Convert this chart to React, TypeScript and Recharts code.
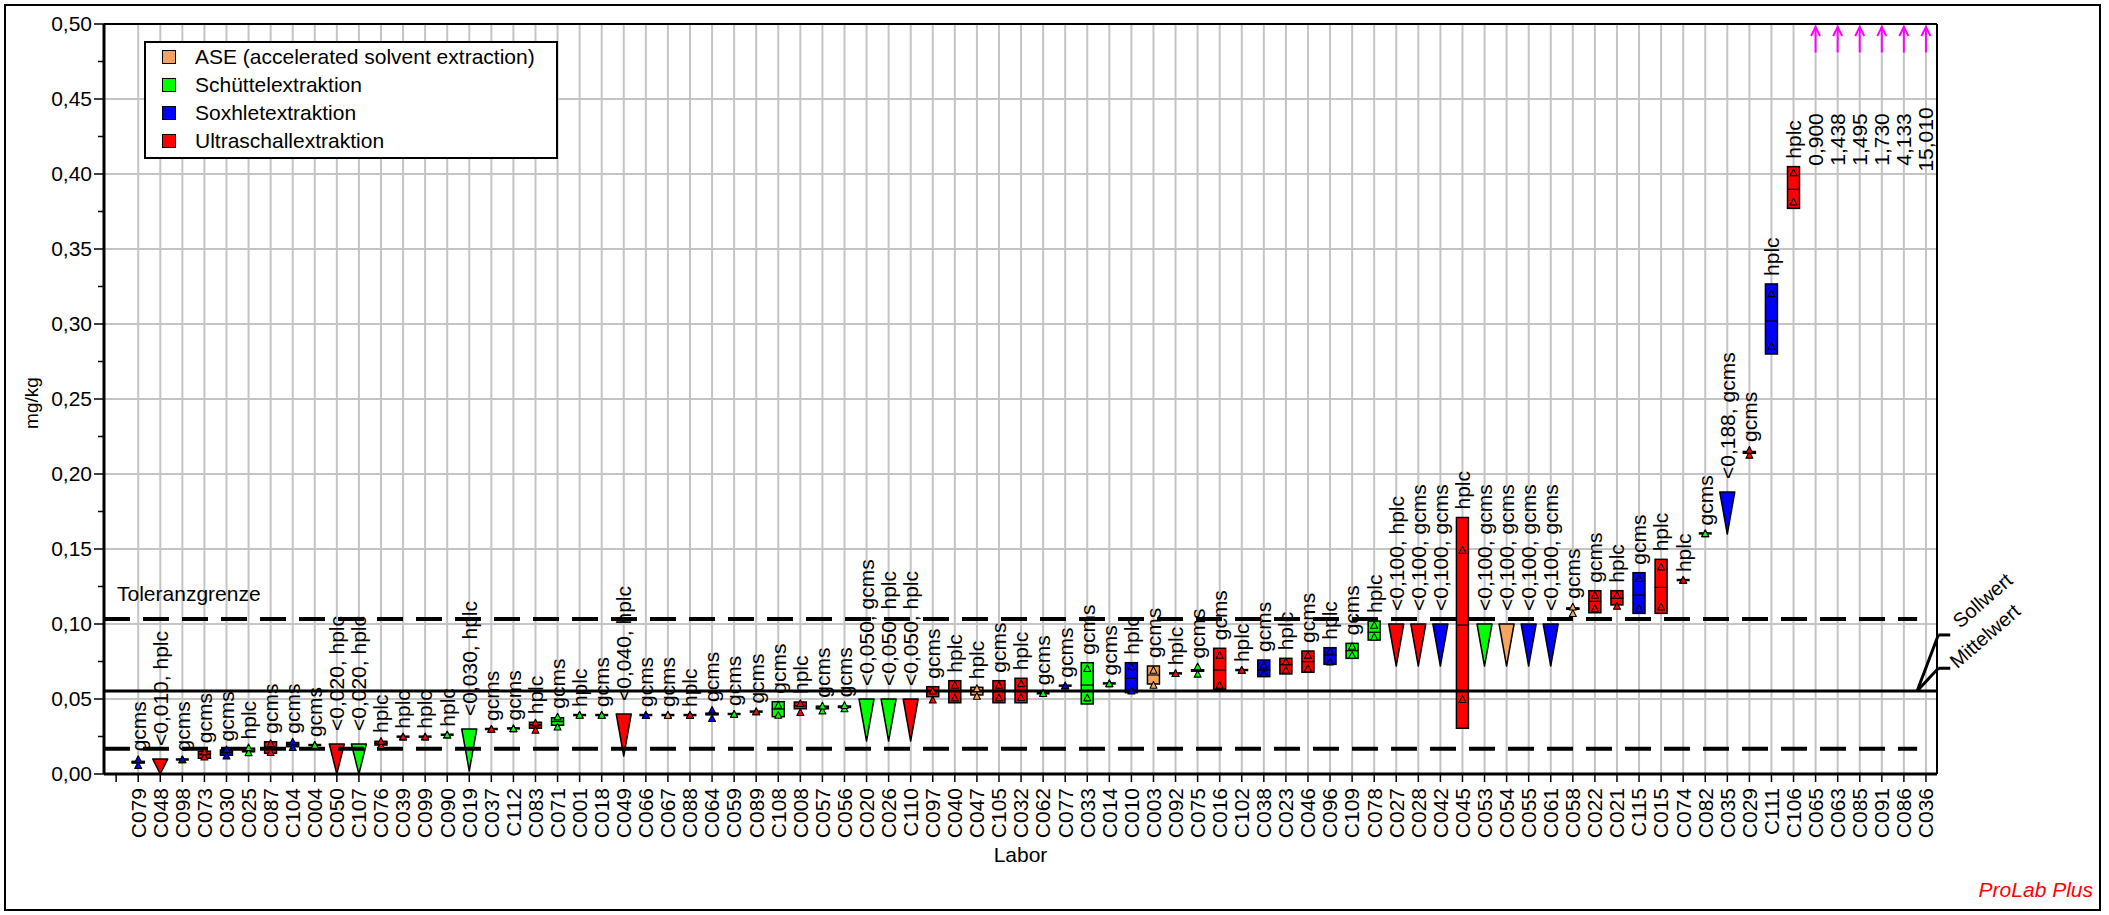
import React from 'react';
import {
  ComposedChart,
  Bar,
  Scatter,
  XAxis,
  YAxis,
  CartesianGrid,
  ReferenceLine,
  Legend,
} from 'recharts';

const FONT = '"Liberation Sans", Arial, Helvetica, sans-serif';
const N = null;

// ---------- categories ----------
const labs = [
  'C079', 'C048', 'C098', 'C073', 'C030', 'C025', 'C087', 'C104', 'C004', 'C050',
  'C107', 'C076', 'C039', 'C099', 'C090', 'C019', 'C037', 'C112', 'C083', 'C071',
  'C001', 'C018', 'C049', 'C066', 'C067', 'C088', 'C064', 'C059', 'C089', 'C108',
  'C008', 'C057', 'C056', 'C020', 'C026', 'C110', 'C097', 'C040', 'C047', 'C105',
  'C032', 'C062', 'C077', 'C033', 'C014', 'C010', 'C003', 'C092', 'C075', 'C016',
  'C102', 'C038', 'C023', 'C046', 'C096', 'C109', 'C078', 'C027', 'C028', 'C042',
  'C045', 'C053', 'C054', 'C055', 'C061', 'C058', 'C022', 'C021', 'C115', 'C015',
  'C074', 'C082', 'C035', 'C029', 'C111', 'C106', 'C065', 'C063', 'C085', 'C091',
  'C086', 'C036',
];

// extraction method: A = ASE, S = Schüttel, X = Soxhlet, U = Ultraschall
const method = [
  'X', 'U', 'X', 'U', 'X', 'S', 'U', 'X', 'S', 'U',
  'S', 'U', 'U', 'U', 'S', 'S', 'U', 'S', 'U', 'S',
  'S', 'S', 'U', 'X', 'A', 'U', 'X', 'S', 'U', 'S',
  'U', 'S', 'S', 'S', 'S', 'U', 'U', 'U', 'A', 'U',
  'U', 'S', 'X', 'S', 'S', 'X', 'A', 'U', 'S', 'U',
  'U', 'X', 'U', 'U', 'X', 'S', 'S', 'U', 'U', 'X',
  'U', 'S', 'A', 'X', 'X', 'A', 'U', 'U', 'X', 'U',
  'U', 'S', 'X', 'U', 'X', 'U', N, N, N, N,
  N, N,
];

const technique = [
  'gcms', 'hplc', 'gcms', 'gcms', 'gcms', 'hplc', 'gcms', 'gcms', 'gcms', 'hplc',
  'hplc', 'hplc', 'hplc', 'hplc', 'hplc', 'hplc', 'gcms', 'gcms', 'hplc', 'gcms',
  'hplc', 'gcms', 'hplc', 'gcms', 'gcms', 'hplc', 'gcms', 'gcms', 'gcms', 'gcms',
  'hplc', 'gcms', 'gcms', 'gcms', 'hplc', 'hplc', 'gcms', 'hplc', 'hplc', 'gcms',
  'hplc', 'gcms', 'gcms', 'gcms', 'gcms', 'hplc', 'gcms', 'hplc', 'gcms', 'gcms',
  'hplc', 'gcms', 'hplc', 'gcms', 'hplc', 'gcms', 'hplc', 'hplc', 'gcms', 'gcms',
  'hplc', 'gcms', 'gcms', 'gcms', 'gcms', 'gcms', 'gcms', 'hplc', 'gcms', 'hplc',
  'hplc', 'gcms', 'gcms', 'gcms', 'hplc', 'hplc', N, N, N, N,
  N, N,
];

// ---------- series values (mg/kg) ----------
const boxLo = [
  0.0074, N, 0.0097, 0.0105, 0.0125, 0.0148, 0.0138, 0.0182, 0.0193, N,
  N, 0.0193, 0.0249, 0.0249, 0.0262, N, 0.0300, 0.0304, 0.0305, 0.0325,
  0.0393, 0.0393, N, 0.0393, 0.0393, 0.0393, 0.0395, 0.0400, 0.0416, 0.0382,
  0.0435, 0.0435, 0.0444, N, N, N, 0.0515, 0.0475, 0.0527, 0.0475,
  0.0475, 0.0538, 0.0589, 0.0467, 0.0604, 0.0542, 0.0600, 0.0671, 0.0685, 0.0565,
  0.0693, 0.0649, 0.0667, 0.0678, 0.0731, 0.0771, 0.0893, N, N, N,
  0.0305, N, N, N, N, 0.1098, 0.1075, 0.1127, 0.1071, 0.1071,
  0.1293, 0.1604, N, 0.2138, 0.2800, 0.3771, N, N, N, N,
  N, N,
];
const boxHi = [
  0.0084, N, 0.0097, 0.0152, 0.0160, 0.0172, 0.0215, 0.0210, 0.0193, N,
  N, 0.0218, 0.0249, 0.0249, 0.0262, N, 0.0300, 0.0304, 0.0345, 0.0375,
  0.0393, 0.0393, N, 0.0393, 0.0393, 0.0393, 0.0405, 0.0400, 0.0416, 0.0482,
  0.0480, 0.0452, 0.0452, N, N, N, 0.0582, 0.0622, 0.0578, 0.0622,
  0.0638, 0.0538, 0.0589, 0.0742, 0.0604, 0.0742, 0.0720, 0.0671, 0.0695, 0.0838,
  0.0693, 0.0760, 0.0771, 0.0820, 0.0842, 0.0871, 0.1020, N, N, N,
  0.1710, N, N, N, N, 0.1106, 0.1222, 0.1222, 0.1342, 0.1431,
  0.1293, 0.1604, N, 0.2150, 0.3267, 0.4049, N, N, N, N,
  N, N,
];
const median = [
  0.0079, N, 0.0097, 0.0132, 0.0145, 0.0160, 0.0177, 0.0197, 0.0193, N,
  N, 0.0205, 0.0249, 0.0249, 0.0262, N, 0.0300, 0.0304, 0.0328, 0.0350,
  0.0393, 0.0393, N, 0.0393, 0.0393, 0.0393, 0.0400, 0.0400, 0.0416, 0.0433,
  0.0455, 0.0445, 0.0448, N, N, N, 0.0549, 0.0555, 0.0550, 0.0553,
  0.0555, 0.0538, 0.0589, 0.0593, 0.0604, 0.0638, 0.0660, 0.0671, 0.0690, 0.0693,
  0.0693, 0.0693, 0.0730, 0.0749, 0.0793, 0.0822, 0.0945, N, N, N,
  0.0993, N, N, N, N, 0.1102, 0.1151, 0.1171, 0.1193, 0.1244,
  0.1293, 0.1604, N, 0.2144, 0.3020, 0.3898, N, N, N, N,
  N, N,
];
const rep1 = [
  0.0058, N, 0.0097, 0.0115, 0.0122, 0.0144, 0.0145, 0.0178, 0.0193, N,
  N, 0.0191, 0.0249, 0.0249, 0.0262, N, 0.0300, 0.0304, 0.0293, 0.0315,
  0.0393, 0.0393, N, 0.0393, 0.0393, 0.0393, 0.0371, 0.0400, 0.0416, 0.0393,
  0.0411, 0.0422, 0.0436, N, N, N, 0.0495, 0.0509, 0.0520, 0.0509,
  0.0511, 0.0538, 0.0589, 0.0509, 0.0604, 0.0555, 0.0593, 0.0671, 0.0667, 0.0593,
  0.0693, 0.0671, 0.0693, 0.0705, 0.0749, 0.0793, 0.0915, N, N, N,
  0.0498, N, N, N, N, 0.1071, 0.1105, 0.1120, 0.1105, 0.1115,
  0.1293, 0.1604, N, 0.2127, 0.2853, 0.3815, N, N, N, N,
  N, N,
];
const rep2 = [
  0.0098, N, 0.0097, 0.0149, 0.0164, 0.0177, 0.0205, 0.0215, 0.0193, N,
  N, 0.0220, 0.0249, 0.0249, 0.0262, N, 0.0300, 0.0304, 0.0342, 0.0382,
  0.0393, 0.0393, N, 0.0393, 0.0393, 0.0393, 0.0427, 0.0400, 0.0416, 0.0460,
  0.0471, 0.0455, 0.0458, N, N, N, 0.0555, 0.0593, 0.0571, 0.0593,
  0.0604, 0.0538, 0.0589, 0.0705, 0.0604, 0.0716, 0.0693, 0.0671, 0.0716, 0.0793,
  0.0693, 0.0727, 0.0749, 0.0793, 0.0820, 0.0853, 0.0993, N, N, N,
  0.1493, N, N, N, N, 0.1115, 0.1193, 0.1193, 0.1305, 0.1382,
  0.1293, 0.1604, N, 0.2160, 0.3204, 0.4010, N, N, N, N,
  N, N,
];
// results reported as "< limit"
const limitValue = [
  N, 0.010, N, N, N, N, N, N, N, 0.020,
  0.020, N, N, N, N, 0.030, N, N, N, N,
  N, N, 0.040, N, N, N, N, N, N, N,
  N, N, N, 0.050, 0.050, 0.050, N, N, N, N,
  N, N, N, N, N, N, N, N, N, N,
  N, N, N, N, N, N, N, 0.100, 0.100, 0.100,
  N, 0.100, 0.100, 0.100, 0.100, N, N, N, N, N,
  N, N, 0.188, N, N, N, N, N, N, N,
  N, N,
];
// results above the axis range
const offScale = [
  N, N, N, N, N, N, N, N, N, N,
  N, N, N, N, N, N, N, N, N, N,
  N, N, N, N, N, N, N, N, N, N,
  N, N, N, N, N, N, N, N, N, N,
  N, N, N, N, N, N, N, N, N, N,
  N, N, N, N, N, N, N, N, N, N,
  N, N, N, N, N, N, N, N, N, N,
  N, N, N, N, N, N, 0.900, 1.438, 1.495, 1.730,
  4.133, 15.010,
];

const meanValue = 0.0553;
const upperTolerance = 0.1033;
const lowerTolerance = 0.0168;

const yTicks = [
  0, 0.025, 0.05, 0.075, 0.1, 0.125, 0.15, 0.175, 0.2, 0.225, 0.25,
  0.275, 0.3, 0.325, 0.35, 0.375, 0.4, 0.425, 0.45, 0.475, 0.5,
];
const yGrid = [0.05, 0.1, 0.15, 0.2, 0.25, 0.3, 0.35, 0.4, 0.45];

const METHODS = [
  { key: 'A', name: 'ASE (accelerated solvent extraction)', color: '#F4A460' },
  { key: 'S', name: 'Schüttelextraktion', color: '#00FF00' },
  { key: 'X', name: 'Soxhletextraktion', color: '#0000FF' },
  { key: 'U', name: 'Ultraschallextraktion', color: '#FF0000' },
];
const colorOf = (m: string | null) => (METHODS.find((d) => d.key === m) || { color: '#FF00FF' }).color;

// marker geometry (in axis units) used by ProLab for "<" and off-scale symbols
const LT_DEPTH = 0.028;
const ARROW_FROM = 0.481;
const ARROW_TO = 0.498;
const OFFSCALE_LABEL_LEVEL = 0.423;
const X_MIN = -1.55;
const X_MAX = 81.5;
const V_APEX = 80.6;
const V_STUB_START = 81.56;
const V_STUB_END = 82.1;
const SOLL_LEVEL = 0.0927;
const MITTEL_LEVEL = 0.0705;

const fmt = (v: number) => v.toFixed(3).replace('.', ',');

const data = labs.map((lab, i) => {
  const kind = offScale[i] != null ? 'up' : limitValue[i] != null ? 'lt' : 'box';
  let range: number[];
  let labelAt: number;
  let text: string;
  if (kind === 'up') {
    range = [ARROW_FROM, ARROW_TO];
    labelAt = OFFSCALE_LABEL_LEVEL;
    text = fmt(offScale[i] as number);
  } else if (kind === 'lt') {
    const lim = limitValue[i] as number;
    range = [Math.max(0, lim - LT_DEPTH), lim];
    labelAt = lim;
    text = `<${fmt(lim)}, ${technique[i]}`;
  } else {
    range = [boxLo[i] as number, boxHi[i] as number];
    labelAt = Math.max(boxHi[i] as number, rep2[i] as number);
    text = technique[i] as string;
  }
  return {
    idx: i,
    lab,
    kind,
    color: colorOf(method[i]),
    range,
    med: median[i],
    r1: rep1[i],
    r2: rep2[i],
    single: kind === 'box' && (boxHi[i] as number) - (boxLo[i] as number) < 0.0012,
    labelAt,
    text,
  };
});
const boxData = data.filter((d) => d.kind === 'box');
const xTicks = [-1, ...labs.map((_, i) => i)];
const xGrid = labs.map((_, i) => i);

// ---------- shapes ----------
const MarkShape = (props: any) => {
  const { x, y, width, height, payload } = props;
  if (x == null || y == null) return <g />;
  const cx = x + width / 2;
  const top = Math.min(y, y + height);
  const bot = Math.max(y, y + height);
  if (payload.kind === 'up') {
    return (
      <g stroke="#FF00FF" strokeWidth={2} fill="none">
        <line x1={cx} y1={bot} x2={cx} y2={top} />
        <polyline points={`${cx - 4.5},${top + 9} ${cx},${top} ${cx + 4.5},${top + 9}`} />
      </g>
    );
  }
  if (payload.kind === 'lt') {
    return (
      <polygon
        points={`${cx - 7.5},${top} ${cx + 7.5},${top} ${cx},${bot}`}
        fill={payload.color}
        stroke="#000"
        strokeWidth={1.5}
        strokeLinejoin="round"
      />
    );
  }
  if (bot - top < 0.5) return <g />;
  return <rect x={cx - 6} y={top} width={12} height={bot - top} fill={payload.color} stroke="#000" strokeWidth={1.5} />;
};

const MedianShape = (props: any) => {
  const { cx, cy, payload } = props;
  if (cx == null || cy == null) return <g />;
  return <line x1={cx - 6.5} x2={cx + 6.5} y1={cy} y2={cy} stroke="#000" strokeWidth={payload.single ? 2.5 : 1.2} />;
};

const RepShape = (props: any) => {
  const { cx, cy, payload } = props;
  if (cx == null || cy == null) return <g />;
  return (
    <polygon
      points={`${cx - 3.5},${cy + 3.2} ${cx + 3.5},${cy + 3.2} ${cx},${cy - 3.5}`}
      fill={payload.color}
      stroke="#000"
      strokeWidth={1.1}
      strokeLinejoin="round"
    />
  );
};

const LabelShape = (props: any) => {
  const { cx, cy, payload } = props;
  if (cx == null || cy == null || !payload.text) return <g />;
  let y = cy;
  let anchor = 'start';
  if (payload.kind === 'up') anchor = 'middle';
  else y = cy - (payload.kind === 'lt' ? 13 : 8);
  return (
    <text
      x={cx}
      y={y}
      transform={`rotate(-90 ${cx} ${y})`}
      textAnchor={anchor}
      dy="0.35em"
      fontSize={21}
      fontFamily={FONT}
      fill="#000"
    >
      {payload.text}
    </text>
  );
};

const XTick = (props: any) => {
  const { x, y, payload } = props;
  const name = labs[payload.value];
  if (!name) return <g />;
  return (
    <text x={x} y={y} transform={`rotate(-90 ${x} ${y})`} textAnchor="end" dy="0.35em" fontSize={21} fontFamily={FONT} fill="#000">
      {name}
    </text>
  );
};

const YTick = (props: any) => {
  const { x, y, payload } = props;
  const v = payload.value;
  const major = Math.abs(v * 20 - Math.round(v * 20)) < 1e-6;
  return (
    <g>
      <line x1={x - (major ? 10 : 6)} x2={x} y1={y} y2={y} stroke="#000" strokeWidth={1.5} />
      {major && (
        <text x={x - 12} y={y} dy="0.35em" textAnchor="end" fontSize={21} fontFamily={FONT} fill="#000">
          {v.toFixed(2).replace('.', ',')}
        </text>
      )}
    </g>
  );
};

const LegendBox = () => (
  <div
    style={{
      width: 414,
      height: 118,
      border: '2px solid #000',
      boxSizing: 'border-box',
      background: '#fff',
      fontFamily: FONT,
    }}
  >
    {METHODS.map((m) => (
      <div key={m.key} style={{ height: 28, display: 'flex', alignItems: 'center' }}>
        <span
          style={{
            display: 'inline-block',
            width: 14,
            height: 14,
            marginLeft: 16,
            border: '1.5px solid #000',
            background: m.color,
            boxSizing: 'border-box',
          }}
        />
        <span style={{ marginLeft: 19, fontSize: 21, lineHeight: '28px', color: '#000' }}>{m.name}</span>
      </div>
    ))}
  </div>
);

const SlantLabel = (text: string, dx: number, dy: number) => (props: any) => {
  const vb = props.viewBox || {};
  const x = (vb.x || 0) + (vb.width || 0) + dx;
  const y = (vb.y || 0) + dy;
  return (
    <text x={x} y={y} transform={`rotate(-41 ${x} ${y})`} fontSize={20} fontFamily={FONT} fill="#000">
      {text}
    </text>
  );
};

const TolLabel = (props: any) => {
  const vb = props.viewBox || {};
  return (
    <text x={(vb.x || 0) + 13} y={(vb.y || 0) - 18} fontSize={21} fontFamily={FONT} fill="#000">
      Toleranzgrenze
    </text>
  );
};

export default function App() {
  return (
    <div style={{ position: 'absolute', left: 0, top: 0, width: 2109, height: 915, background: '#fff', fontFamily: FONT }}>
      <div
        style={{
          position: 'absolute',
          left: 4,
          top: 4,
          width: 2097,
          height: 907,
          border: '2px solid #000',
          boxSizing: 'border-box',
        }}
      />
      <div style={{ position: 'absolute', left: 0, top: 0 }}>
        <ComposedChart
          width={2109}
          height={915}
          data={data}
          margin={{ top: 24, right: 172, bottom: 41, left: 4 }}
          style={{ fontFamily: FONT }}
        >
          <CartesianGrid
            stroke="#c4c4c4"
            strokeWidth={2}
            horizontalValues={yGrid}
            verticalValues={xGrid}
          />
          <XAxis
            type="number"
            dataKey="idx"
            domain={[X_MIN, X_MAX]}
            ticks={xTicks}
            interval={0}
            height={100}
            tickSize={8}
            tickMargin={6}
            tickLine={{ stroke: '#000', strokeWidth: 1.5 }}
            axisLine={{ stroke: '#000', strokeWidth: 3 }}
            tick={<XTick />}
            label={(p: any) => {
              const vb = p.viewBox || {};
              return (
                <text x={(vb.x || 0) + (vb.width || 0) / 2} y={(vb.y || 0) + 88} textAnchor="middle" fontSize={21} fontFamily={FONT} fill="#000">
                  Labor
                </text>
              );
            }}
          />
          <YAxis
            type="number"
            domain={[0, 0.5]}
            ticks={yTicks}
            interval={0}
            width={100}
            tickSize={0}
            tickMargin={0}
            tickLine={false}
            axisLine={{ stroke: '#000', strokeWidth: 3 }}
            tick={<YTick />}
            label={() => (
              <text x={31} y={403} transform="rotate(-90 31 403)" textAnchor="middle" dy="0.35em" fontSize={19} fontFamily={FONT} fill="#000">
                mg/kg
              </text>
            )}
          />
          <ReferenceLine y={0.5} stroke="#000" strokeWidth={2} />
          <ReferenceLine x={X_MAX} stroke="#000" strokeWidth={2} />
          <ReferenceLine
            ifOverflow="visible"
            segment={[{ x: X_MIN, y: upperTolerance }, { x: V_APEX, y: upperTolerance }]}
            stroke="#000"
            strokeWidth={4}
            strokeDasharray="26 13"
            label={TolLabel}
          />
          <ReferenceLine
            ifOverflow="visible"
            segment={[{ x: X_MIN, y: lowerTolerance }, { x: V_APEX, y: lowerTolerance }]}
            stroke="#000"
            strokeWidth={4}
            strokeDasharray="26 13"
          />
          <ReferenceLine y={meanValue} stroke="#000" strokeWidth={3} />
          <ReferenceLine
            ifOverflow="visible"
            segment={[{ x: V_APEX, y: meanValue }, { x: V_STUB_START, y: SOLL_LEVEL }]}
            stroke="#000"
            strokeWidth={3}
          />
          <ReferenceLine
            ifOverflow="visible"
            segment={[{ x: V_STUB_START, y: SOLL_LEVEL }, { x: V_STUB_END, y: SOLL_LEVEL }]}
            stroke="#000"
            strokeWidth={3}
            label={SlantLabel('Sollwert', 10, -6)}
          />
          <ReferenceLine
            ifOverflow="visible"
            segment={[{ x: V_APEX, y: meanValue }, { x: V_STUB_START, y: MITTEL_LEVEL }]}
            stroke="#000"
            strokeWidth={3}
          />
          <ReferenceLine
            ifOverflow="visible"
            segment={[{ x: V_STUB_START, y: MITTEL_LEVEL }, { x: V_STUB_END, y: MITTEL_LEVEL }]}
            stroke="#000"
            strokeWidth={3}
            label={SlantLabel('Mittelwert', 7, 1)}
          />
          <Bar dataKey="range" barSize={12} shape={MarkShape} isAnimationActive={false} />
          <Scatter data={boxData} dataKey="med" shape={MedianShape} isAnimationActive={false} />
          <Scatter data={boxData} dataKey="r1" shape={RepShape} isAnimationActive={false} />
          <Scatter data={boxData} dataKey="r2" shape={RepShape} isAnimationActive={false} />
          <Scatter data={data} dataKey="labelAt" shape={LabelShape} isAnimationActive={false} />
          <Legend
            layout="vertical"
            align="center"
            verticalAlign="middle"
            wrapperStyle={{ left: 144, top: 41, width: 414, height: 118, right: 'auto', bottom: 'auto' }}
            content={() => <LegendBox />}
          />
        </ComposedChart>
      </div>
      <div
        style={{
          position: 'absolute',
          right: 16,
          top: 879,
          fontSize: 21,
          lineHeight: '21px',
          fontStyle: 'italic',
          color: '#FF0000',
          fontFamily: FONT,
          whiteSpace: 'nowrap',
        }}
      >
        ProLab Plus
      </div>
    </div>
  );
}
